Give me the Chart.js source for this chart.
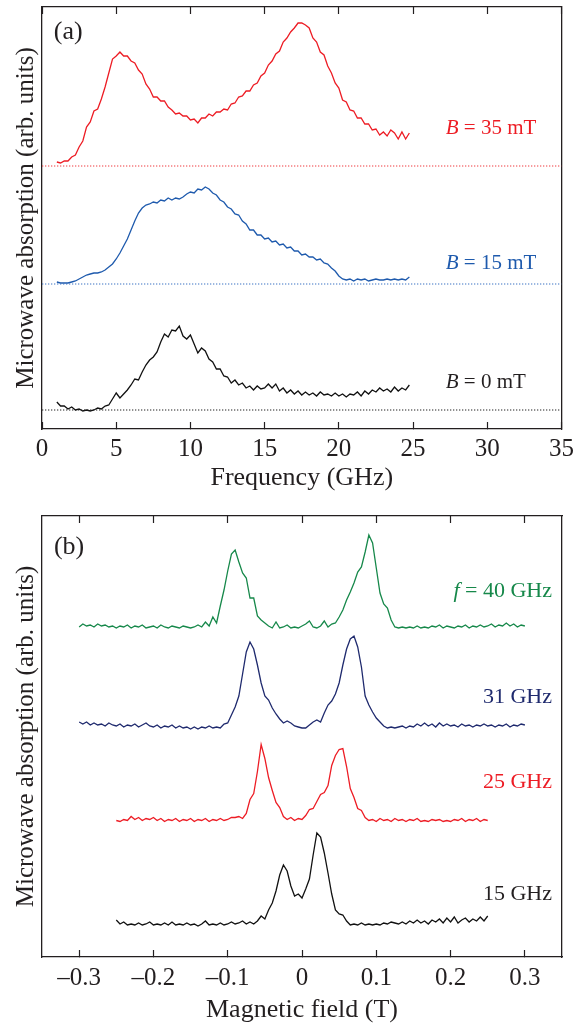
<!DOCTYPE html>
<html>
<head>
<meta charset="utf-8">
<script src="https://cdn.jsdelivr.net/npm/chart.js@4.4.1/dist/chart.umd.min.js"></script>
<style>
  body { margin: 0; background: #fff; }
  canvas { display: block; }
</style>
</head>
<body>
<canvas id="panelA" width="586" height="500"></canvas>
<canvas id="panelB" width="586" height="527"></canvas>
<script>
// ---- panel (a): absorption vs frequency (GHz), signal above each dotted baseline ----
const freq = [1,1.25,1.5,1.75,2,2.25,2.5,2.75,3,3.25,3.5,3.75,4,4.25,4.5,4.75,5,5.25,5.5,5.75,
  6,6.25,6.5,6.75,7,7.25,7.5,7.75,8,8.25,8.5,8.75,9,9.25,9.5,9.75,10,10.25,10.5,10.75,
  11,11.25,11.5,11.75,12,12.25,12.5,12.75,13,13.25,13.5,13.75,14,14.25,14.5,14.75,15,15.25,15.5,15.75,
  16,16.25,16.5,16.75,17,17.25,17.5,17.75,18,18.25,18.5,18.75,19,19.25,19.5,19.75,20,20.25,20.5,20.75,
  21,21.25,21.5,21.75,22,22.25,22.5,22.75,23,23.25,23.5,23.75,24,24.25,24.5,24.75];

const abs35mT = [4,3,5,5,9,11,19,25,39,44,
  55,57,67,79,93,107,110,114,110,110,
  105,103,96,92,82,77,69,69,65,65,
  59,56,52,53,50,50,46,47,43,48,
  48,52,50,54,54,57,56,62,63,69,
  70,75,75,81,83,90,93,101,105,112,
  115,124,128,134,138,143,143,141,138,128,
  124,114,111,100,93,83,78,66,64,56,
  55,48,48,42,42,36,37,31,34,30,
  36,33,27,34,27,33];

const abs15mT = [2,1,1,1,2,3,5,7,9,10,
  11,11,12,14,17,20,25,31,38,45,
  54,63,71,76,79,80,82,81,84,83,
  86,84,86,85,87,90,92,91,95,94,
  97,95,91,89,84,82,77,75,70,69,
  63,60,54,54,49,49,45,46,42,43,
  39,40,36,37,33,33,29,30,27,27,
  24,25,21,20,16,13,8,5,4,5,
  3,5,4,5,3,4,5,4,4,5,
  4,5,4,5,4,7];

const abs0mT = [8,4,4,1,3,0,1,-1,0,-1,
  0,2,1,4,5,11,17,12,16,20,
  25,31,30,38,45,50,53,58,68,76,
  73,80,79,84,74,71,75,66,57,62,
  59,51,48,41,41,34,33,27,30,25,
  27,22,24,20,24,21,22,26,22,26,
  19,22,17,20,16,19,15,18,15,17,
  14,18,15,16,14,17,14,16,13,16,
  15,18,14,19,16,20,18,22,19,21,
  18,23,19,22,20,25];

// vertical offsets (baselines) of the three traces, arb. units
const baseline35mT = 263;
const baseline15mT = 145;
const baseline0mT = 19;

const freqTicks = [0, 5, 10, 15, 20, 25, 30, 35];
const freqTickLabels = ['0', '5', '10', '15', '20', '25', '30', '35'];

// ---- panel (b): absorption vs magnetic field (T) ----
const field = [-0.3,-0.295,-0.29,-0.285,-0.28,-0.275,-0.27,-0.265,-0.26,-0.255,
  -0.25,-0.245,-0.24,-0.235,-0.23,-0.225,-0.22,-0.215,-0.21,-0.205,
  -0.2,-0.195,-0.19,-0.185,-0.18,-0.175,-0.17,-0.165,-0.16,-0.155,
  -0.15,-0.145,-0.14,-0.135,-0.13,-0.125,-0.12,-0.115,-0.11,-0.105,
  -0.1,-0.095,-0.09,-0.085,-0.08,-0.075,-0.07,-0.065,-0.06,-0.055,
  -0.05,-0.045,-0.04,-0.035,-0.03,-0.025,-0.02,-0.015,-0.01,-0.005,
  0,0.005,0.01,0.015,0.02,0.025,0.03,0.035,0.04,0.045,
  0.05,0.055,0.06,0.065,0.07,0.075,0.08,0.085,0.09,0.095,
  0.1,0.105,0.11,0.115,0.12,0.125,0.13,0.135,0.14,0.145,
  0.15,0.155,0.16,0.165,0.17,0.175,0.18,0.185,0.19,0.195,
  0.2,0.205,0.21,0.215,0.22,0.225,0.23,0.235,0.24,0.245,
  0.25,0.255,0.26,0.265,0.27,0.275,0.28,0.285,0.29,0.295,
  0.3];
const fieldNarrow = field.slice(10, 111); // -0.25 .. 0.25

const abs40GHz = [1,4,2,3,1,4,2,3,1,2,
  0,2,1,3,0,2,1,3,0,1,
  2,0,3,1,0,2,1,0,2,1,
  0,1,3,1,6,2,11,5,22,38,
  57,74,78,66,55,50,30,30,12,8,
  5,2,0,6,0,1,3,0,1,0,
  2,4,7,1,0,2,7,1,4,5,
  11,18,28,36,45,56,61,76,93,85,
  60,35,24,20,8,1,0,1,0,1,
  0,2,0,1,0,2,1,3,0,2,
  1,0,2,1,3,0,2,1,3,1,
  2,4,1,3,2,5,2,4,1,3,
  2];

const abs31GHz = [5,3,5,2,4,2,3,1,4,2,
  1,3,0,2,1,3,0,2,4,1,
  0,2,-1,1,0,2,-1,1,-1,0,
  -2,0,-2,0,-1,1,-1,0,-1,3,
  4,12,20,31,53,75,85,78,62,44,
  31,27,19,13,8,4,6,4,1,0,
  -1,-1,2,5,7,5,14,22,26,33,
  44,62,78,88,91,80,60,31,22,15,
  9,5,1,-1,0,-1,0,1,-1,1,
  0,3,1,4,1,3,0,4,1,3,
  1,2,0,3,1,2,0,2,1,3,
  1,2,0,2,1,3,0,2,1,3,
  2];

const abs25GHz = [1,0,2,1,5,2,4,1,3,2,
  4,1,3,0,2,1,3,0,2,1,
  3,0,2,1,3,0,2,1,3,1,
  2,4,4,5,3,8,22,28,50,77,
  63,44,31,19,14,5,2,4,1,3,
  2,6,12,13,20,27,29,36,56,66,
  72,73,55,33,24,13,11,4,1,2,
  0,3,1,2,0,3,1,2,0,2,
  1,3,0,1,0,2,1,2,0,1,
  0,2,1,3,0,2,1,3,0,2,
  1];

const abs15GHz = [5,1,3,0,1,0,2,0,1,3,
  0,1,0,2,0,3,0,1,0,2,
  0,1,-1,1,4,0,1,0,2,0,
  1,3,1,2,4,1,3,1,4,9,
  6,15,22,34,50,60,54,39,29,31,
  27,36,46,70,92,88,72,52,31,15,
  11,10,4,0,1,0,2,0,1,0,
  1,0,2,1,3,2,1,3,1,4,
  2,5,2,4,1,5,3,6,2,7,
  3,8,2,5,7,3,6,4,8,4,
  9];

const baseline40GHz = 329;
const baseline31GHz = 230;
const baseline25GHz = 135.5;
const baseline15GHz = 32;

const fieldTicks = [-0.3, -0.2, -0.1, 0, 0.1, 0.2, 0.3];
const fieldTickLabels = ['\u20130.3', '\u20130.2', '\u20130.1', '0', '0.1', '0.2', '0.3'];

// ---------------------------------------------------------------
const INK = '#231f20';
Chart.defaults.font.family = '"Liberation Serif", "Times New Roman", serif';
Chart.defaults.color = INK;

function toPoints(xs, ys, offset) {
  return xs.map((x, i) => ({ x: x, y: ys[i] + offset }));
}

function trace(xs, ys, offset, color) {
  return { data: toPoints(xs, ys, offset), borderColor: color, borderWidth: 1.3, pointRadius: 0, tension: 0, fill: false };
}

function dottedLine(xmin, xmax, level, color) {
  return { data: [{ x: xmin, y: level }, { x: xmax, y: level }], borderColor: color, borderWidth: 1.2,
           borderDash: [1.3, 1.7], pointRadius: 0, fill: false };
}

// text labels drawn inside the frame, placed in data coordinates
const panelText = {
  id: 'panelText',
  afterDatasetsDraw(chart, args, opts) {
    const ctx = chart.ctx;
    const xs = chart.scales.x, ys = chart.scales.y;
    ctx.save();
    ctx.textBaseline = 'middle';
    for (const item of opts.items) {
      const fonts = item.parts.map(p => (p[1] ? 'italic ' : '') + item.size + 'px ' + Chart.defaults.font.family);
      let total = 0;
      const widths = item.parts.map((p, i) => { ctx.font = fonts[i]; const w = ctx.measureText(p[0]).width; total += w; return w; });
      let px = xs.getPixelForValue(item.x);
      if (item.align === 'right') px -= total;
      const py = ys.getPixelForValue(item.y);
      ctx.fillStyle = item.color;
      item.parts.forEach((p, i) => { ctx.font = fonts[i]; ctx.fillText(p[0], px, py); px += widths[i]; });
    }
    ctx.restore();
  }
};

function frameScales(o) {
  const border = { display: true, color: INK, width: 1.3 };
  const inwardTicks = { display: true, drawOnChartArea: false, drawTicks: true, tickLength: -7, tickColor: INK, tickWidth: 1.2 };
  const setTicks = s => { s.ticks = o.ticks.map(v => ({ value: v })); };
  return {
    x: {
      type: 'linear', position: 'bottom', min: o.min, max: o.max,
      afterBuildTicks: setTicks,
      afterFit: s => { s.height = o.axisHeight; },
      grid: inwardTicks, border: border,
      ticks: { padding: o.tickPad, color: INK, font: { size: 25 }, maxRotation: 0, autoSkip: false,
               callback: (v, i) => o.labels[i] },
      title: { display: true, text: o.title, color: INK, font: { size: 26 }, padding: { top: 0, bottom: o.titlePad } }
    },
    xTop: {
      type: 'linear', position: 'top', min: o.min, max: o.max,
      afterBuildTicks: setTicks,
      afterFit: s => { s.height = 0; },
      grid: inwardTicks, border: border,
      ticks: { display: false }
    },
    y: {
      type: 'linear', position: 'left', min: 0, max: o.ymax,
      afterFit: s => { s.width = 42; },
      grid: { display: false }, border: border,
      ticks: { display: false },
      title: { display: true, text: 'Microwave absorption (arb. units)', color: INK, font: { size: 25 }, padding: { top: 11, bottom: 0 } }
    },
    yRight: {
      type: 'linear', position: 'right', min: 0, max: o.ymax,
      afterFit: s => { s.width = 0; },
      grid: { display: false }, border: border,
      ticks: { display: false }
    }
  };
}

function makePanel(id, datasets, scaleOpts, padding, texts) {
  return new Chart(document.getElementById(id), {
    type: 'line',
    data: { datasets: datasets },
    options: {
      responsive: false,
      animation: false,
      layout: { padding: padding },
      scales: frameScales(scaleOpts),
      plugins: { legend: { display: false }, tooltip: { enabled: false }, panelText: { items: texts } }
    },
    plugins: [panelText]
  });
}

const RED = '#ed1c24', BLUE = '#1e5aad', BLACK = '#111111', GREEN = '#16884a', NAVY = '#1f2a6e';

makePanel('panelA', [
  dottedLine(0, 35, baseline35mT, '#ef3a3f'),
  dottedLine(0, 35, baseline15mT, '#3a72c4'),
  dottedLine(0, 35, baseline0mT, '#222222'),
  trace(freq, abs35mT, baseline35mT, RED),
  trace(freq, abs15mT, baseline15mT, BLUE),
  trace(freq, abs0mT, baseline0mT, BLACK)
], {
  min: 0, max: 35, ymax: 422, ticks: freqTicks, labels: freqTickLabels,
  title: 'Frequency (GHz)', axisHeight: 71, tickPad: 12, titlePad: 6
}, { left: 0, right: 24, top: 7, bottom: 0 }, [
  { x: 0.8, y: 397, parts: [['(a)', false]], size: 26, color: INK },
  { x: 27.2, y: 301, parts: [['B', true], [' = 35 mT', false]], size: 21, color: RED },
  { x: 27.2, y: 166, parts: [['B', true], [' = 15 mT', false]], size: 21, color: BLUE },
  { x: 27.2, y: 47, parts: [['B', true], [' = 0 mT', false]], size: 21, color: INK }
]);

makePanel('panelB', [
  trace(field, abs40GHz, baseline40GHz, GREEN),
  trace(field, abs31GHz, baseline31GHz, NAVY),
  trace(fieldNarrow, abs25GHz, baseline25GHz, RED),
  trace(fieldNarrow, abs15GHz, baseline15GHz, BLACK)
], {
  min: -0.35, max: 0.35, ymax: 441, ticks: fieldTicks, labels: fieldTickLabels,
  title: 'Magnetic field (T)', axisHeight: 70, tickPad: 13, titlePad: 1
}, { left: 0, right: 24, top: 16, bottom: 0 }, [
  { x: -0.334, y: 410, parts: [['(b)', false]], size: 26, color: INK },
  { x: 0.3365, y: 366, parts: [['f', true], [' = 40 GHz', false]], size: 22, color: GREEN, align: 'right' },
  { x: 0.3365, y: 260, parts: [['31 GHz', false]], size: 22, color: NAVY, align: 'right' },
  { x: 0.3365, y: 175, parts: [['25 GHz', false]], size: 22, color: RED, align: 'right' },
  { x: 0.3365, y: 63, parts: [['15 GHz', false]], size: 22, color: INK, align: 'right' }
]);
</script>
</body>
</html>
